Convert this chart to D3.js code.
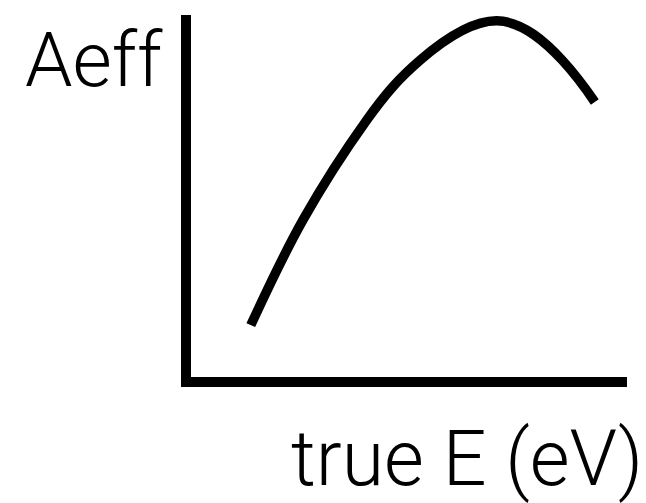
<!DOCTYPE html>
<html>
<head>
<meta charset="utf-8">
<script src="https://cdn.jsdelivr.net/npm/d3@7"></script>
<style>
  html, body { margin: 0; padding: 0; background: #fff; }
  svg text { font-family: "Roboto", "Liberation Sans", sans-serif; font-weight: 300; fill: #000; }
</style>
</head>
<body>
<svg id="chart" width="646" height="503"></svg>
<script>
"use strict";

// schematic curve (arbitrary units, 0..100)
let energy = [14.7, 26.5, 41.0, 53.1, 70.5, 85.3, 92.7];
let aeff = [15.5, 44.1, 71.4, 87.7, 98.4, 87.7, 76.3];
let xLabel = "true E (eV)";
let yLabel = "Aeff";

function translate(x, y) {
  return "translate(" + x + "," + y + ")";
}

let svg = d3.select("#chart");

let x = d3.scaleLinear().domain([0, 100]).range([186, 627]);
let y = d3.scaleLinear().domain([0, 100]).range([382, 15]);

// axes: one thick polyline, no ticks
svg
  .append("path")
  .attr("d", d3.line()([[x(0), y(100)], [x(0), y(0)], [x(100), y(0)]]))
  .attr("fill", "none")
  .attr("stroke", "#000")
  .attr("stroke-width", 10)
  .attr("stroke-linejoin", "miter")
  .attr("stroke-linecap", "butt");

let line = d3
  .line()
  .x((d, i) => x(energy[i]))
  .y((d, i) => y(aeff[i]))
  .curve(d3.curveNatural);

svg
  .append("path")
  .datum(energy)
  .attr("d", line)
  .attr("fill", "none")
  .attr("stroke", "#000")
  .attr("stroke-width", 9.5)
  .attr("stroke-linecap", "butt");

svg
  .append("text")
  .attr("transform", translate(25, 86))
  .style("font-size", "76px")
  .text(yLabel);

svg
  .append("text")
  .attr("text-anchor", "end")
  .attr("transform", translate(643, 485))
  .style("font-size", "77px")
  .text(xLabel);
</script>
</body>
</html>
